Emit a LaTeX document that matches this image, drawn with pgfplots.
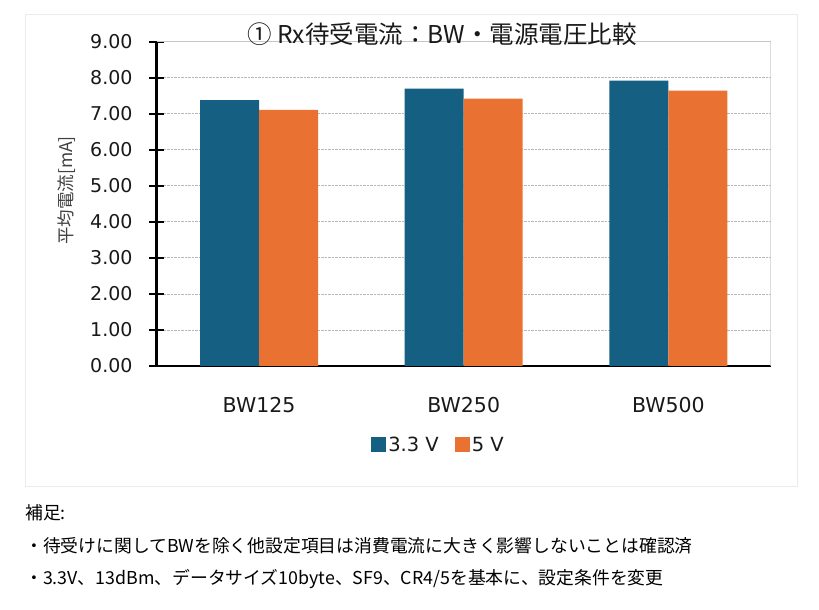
\documentclass[border=0pt]{standalone}
\usepackage{fontspec}
\setmainfont{Noto Sans CJK JP}
\newfontfamily\dv{DejaVu Sans}
\usepackage{pgfplots}
\pgfplotsset{compat=1.18}
\definecolor{cblue}{HTML}{156082}
\definecolor{corange}{HTML}{E97132}
\begin{document}
\begin{tikzpicture}[x=1pt,y=1pt]
\path (0,0) rectangle (819,610);
\draw[color=black!8, line width=1pt] (25,123) rectangle (797,595);
\begin{axis}[
  at={(156.7pt,244pt)}, anchor=south west,
  scale only axis, width=614pt, height=324.3pt,
  ymin=0, ymax=9, ytick={0,1,...,9},
  xmin=-0.5, xmax=2.5, xtick={0,1,2}, xticklabels={BW125,BW250,BW500},
  axis x line*=bottom, axis y line*=left,
  axis line style={-, black, line width=2.6pt},
  xtick style={draw=none},
  ytick style={black, line width=2pt},
  major tick length=15pt, tick align=center,
  ymajorgrids, major grid style={densely dotted, color=black!28, line width=0.8pt},
  /pgf/number format/assume math mode=true,
  yticklabel style={font=\dv\fontsize{19}{22}\selectfont, text=black!90, anchor=east, inner sep=0pt, xshift=-16.5pt,
    /pgf/number format/.cd, fixed, fixed zerofill, precision=2},
  xticklabel style={font=\dv\fontsize{20.5}{24}\selectfont, text=black!90, anchor=center, inner sep=0pt, yshift=-32pt},
  legend columns=2,
  legend style={draw=none, fill=none, at={(0.4590,-0.2436)}, anchor=center,
    font=\dv\fontsize{19.5}{23}\selectfont, text=black!90,
    /tikz/every even column/.append style={column sep=14pt}},
]
\addplot[ybar, bar width=59pt, bar shift=-29.5pt, fill=cblue, draw=none,
  legend image code/.code={\fill[cblue] (0pt,-7.5pt) rectangle (15pt,7.5pt);}]
  coordinates {(0,7.38) (1,7.70) (2,7.92)};
\addlegendentry{3.3 V}
\addplot[ybar, bar width=59pt, bar shift=29.5pt, fill=corange, draw=none,
  legend image code/.code={\fill[corange] (0pt,-7.5pt) rectangle (15pt,7.5pt);}]
  coordinates {(0,7.11) (1,7.42) (2,7.64)};
\addlegendentry{5 V}
\draw[color=black!22, line width=1.2pt] (rel axis cs:0,1) -- (rel axis cs:1,1) -- (rel axis cs:1,0);
\end{axis}
\node[font=\fontsize{24.5}{28}\selectfont, text=black!90] at (442,576) {① Rx待受電流：BW・電源電圧比較};
\node[rotate=90, font=\fontsize{17.5}{20}\selectfont, text=black!75] at (66.7,419.5) {平均電流[mA]};
\node[anchor=west, inner sep=0pt, font=\fontsize{17.8}{20}\selectfont] at (25,97) {補足:};
\node[anchor=west, inner sep=0pt, font=\fontsize{17.8}{20}\selectfont] at (25,64.5) {・待受けに関してBWを除く他設定項目は消費電流に大きく影響しないことは確認済};
\node[anchor=west, inner sep=0pt, font=\fontsize{17.8}{20}\selectfont] at (25,30.5) {・3.3V、13dBm、データサイズ10byte、SF9、CR4/5を基本に、設定条件を変更};
\end{tikzpicture}
\end{document}
